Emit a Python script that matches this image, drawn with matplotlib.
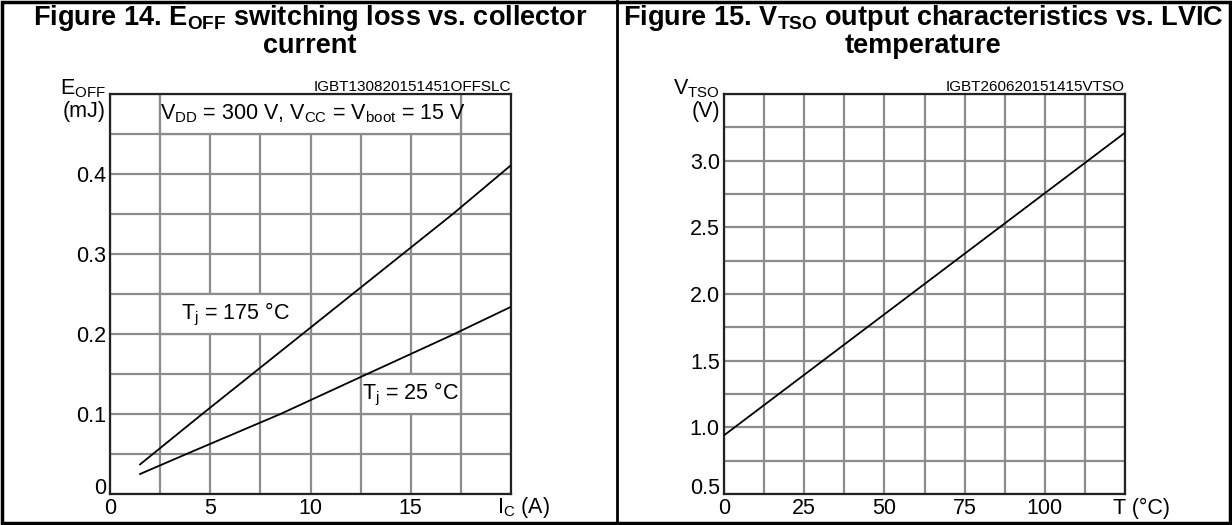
import matplotlib
matplotlib.use("Agg")
import matplotlib.pyplot as plt
from matplotlib.patches import Rectangle
from matplotlib.lines import Line2D
import numpy as np

plt.rcParams['font.family'] = ['Liberation Sans', 'DejaVu Sans']
plt.rcParams['mathtext.fontset'] = 'custom'
plt.rcParams['mathtext.rm'] = 'Liberation Sans'
plt.rcParams['mathtext.bf'] = 'Liberation Sans:bold'
plt.rcParams['mathtext.default'] = 'regular'

# Figure 14 data - E_OFF vs I_C
ic_175 = [1.5, 4.6, 7.1, 9.6, 12.1, 14.6, 17.1, 20.0]
eoff_175 = [0.037, 0.10, 0.15, 0.20, 0.25, 0.30, 0.35, 0.411]
ic_25 = [1.5, 4.0, 8.5, 13.0, 17.0, 20.0]
eoff_25 = [0.025, 0.052, 0.100, 0.152, 0.198, 0.234]
ic_ticks = [0, 5, 10, 15]
eoff_ticks = [0, 0.1, 0.2, 0.3, 0.4]

# Figure 15 data - V_TSO vs T
temp = [0, 125]
vtso = [0.94, 3.21]
temp_ticks = [0, 25, 50, 75, 100]
vtso_ticks = [0.5, 1.0, 1.5, 2.0, 2.5, 3.0]

GRID = '#8c8c8c'
TFS = 15.5   # tick font size

fig = plt.figure(figsize=(12.32, 5.25), dpi=100)

def setup(ax, xlim, ylim, xstep, ystep, xt, yt, yfmt):
    ax.set_xlim(*xlim)
    ax.set_ylim(*ylim)
    ax.set_xticks(np.arange(xlim[0], xlim[1] + 1e-9, xstep), minor=True)
    ax.set_yticks(np.arange(ylim[0], ylim[1] + 1e-9, ystep), minor=True)
    ax.set_xticks(xt)
    ax.set_yticks(yt)
    ax.set_xticklabels([str(v) for v in xt])
    ax.set_yticklabels([yfmt.format(v) for v in yt])
    ax.grid(True, which='both', color=GRID, lw=1.6)
    ax.set_axisbelow(True)
    ax.tick_params(which='both', length=0, labelsize=TFS, pad=3)
    for s in ax.spines.values():
        s.set_color('#222222')
        s.set_linewidth(1.6)
    # bottom y label sits on the axis line
    ax.get_yticklabels()[0].set_verticalalignment('baseline')

# ---- left chart ----
ax1 = fig.add_axes([110/1232, 1 - 494/525, 401/1232, 400/525])
setup(ax1, (0, 20), (0, 0.5), 2.5, 0.05, ic_ticks, eoff_ticks, '{:g}')
ax1.plot(ic_175, eoff_175, color='black', lw=1.3, zorder=3)
ax1.plot(ic_25, eoff_25, color='black', lw=1.3, zorder=3)

ax1.add_patch(Rectangle((2.5, 0.45), 15, 0.05, fc='white', ec=GRID, lw=1.6, zorder=1))
ax1.text(10.1, 0.475, 'V$_{DD}$ = 300 V, V$_{CC}$ = V$_{boot}$ = 15 V',
         ha='center', va='center', fontsize=TFS, zorder=4)
ax1.add_patch(Rectangle((2.5, 0.20), 7.5, 0.05, fc='white', ec=GRID, lw=1.6, zorder=1))
ax1.text(6.25, 0.225, 'T$_{j}$ = 175 °C', ha='center', va='center', fontsize=TFS, zorder=4)
ax1.add_patch(Rectangle((12.5, 0.10), 5, 0.05, fc='white', ec=GRID, lw=1.6, zorder=1))
ax1.text(15, 0.125, 'T$_{j}$ = 25 °C', ha='center', va='center', fontsize=TFS, zorder=4)

ax1.text(1.0, 1.0, 'IGBT130820151451OFFSLC', transform=ax1.transAxes,
         ha='right', va='bottom', fontsize=11)
ax1.text(-0.01, 1.0, 'E$_{OFF}$', transform=ax1.transAxes, ha='right', va='baseline', fontsize=TFS)
ax1.text(-0.01, 0.982, '(mJ)', transform=ax1.transAxes, ha='right', va='top', fontsize=TFS)
ax1.text(1.03, -0.035, 'I$_{C}$ (A)', transform=ax1.transAxes, ha='center', va='center', fontsize=TFS)

# ---- right chart ----
ax2 = fig.add_axes([724/1232, 1 - 494/525, 401/1232, 400/525])
setup(ax2, (0, 125), (0.5, 3.5), 12.5, 0.25, temp_ticks, vtso_ticks, '{:.1f}')
ax2.plot(temp, vtso, color='black', lw=1.3, zorder=3)
ax2.text(1.0, 1.0, 'IGBT260620151415VTSO', transform=ax2.transAxes,
         ha='right', va='bottom', fontsize=11)
ax2.text(-0.01, 1.0, 'V$_{TSO}$', transform=ax2.transAxes, ha='right', va='baseline', fontsize=TFS)
ax2.text(-0.01, 0.982, '(V)', transform=ax2.transAxes, ha='right', va='top', fontsize=TFS)
ax2.text(1.04, -0.035, 'T (°C)', transform=ax2.transAxes, ha='center', va='center', fontsize=TFS)

# titles
fig.text(310/1232, 1 - 31/525, 'Figure 14. E$_{\\mathbf{OFF}}$ switching loss vs. collector\ncurrent',
         ha='center', va='center', fontsize=19.5, fontweight='bold', linespacing=1.0)
fig.text(923/1232, 1 - 31/525, 'Figure 15. V$_{\\mathbf{TSO}}$ output characteristics vs. LVIC\ntemperature',
         ha='center', va='center', fontsize=19.5, fontweight='bold', linespacing=1.0)

# table frame
fig.add_artist(Rectangle((0.002, 0.003), 0.996, 0.994, transform=fig.transFigure,
                         fill=False, ec='black', lw=2.5))
fig.add_artist(Line2D([617/1232, 617/1232], [0, 1], transform=fig.transFigure,
                      color='black', lw=2))

fig.savefig('out.png', dpi=100)
